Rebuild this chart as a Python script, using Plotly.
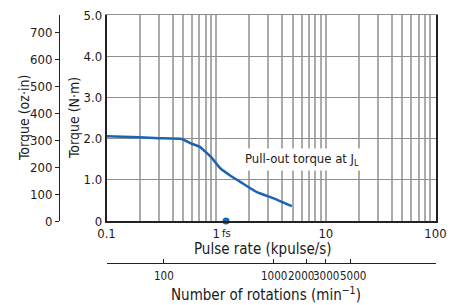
import math
import plotly.graph_objects as go

# The page body has an 8px margin, so the figure is drawn 8px smaller and
# all pixel positions below are given in window pixels, shifted by OFF.
OFF = 8
W, H = 458 - OFF, 305 - OFF

# Data
pulse_rate = [0.1, 0.2, 0.3, 0.486, 0.58, 0.71, 0.9, 1.09, 1.35, 1.66, 2.35, 3.34, 4.9]
torque_nm = [2.06, 2.03, 2.01, 1.99, 1.89, 1.80, 1.55, 1.28, 1.10, 0.95, 0.70, 0.55, 0.36]
fs_point = [1.23]
fs_torque = [0]
y_ticks = [0, 1, 2, 3, 4, 5]
y_labels = ["0", "1.0", "2.0", "3.0", "4.0", "5.0"]
oz_ticks = [0, 100, 200, 300, 400, 500, 600, 700]
x_ticks = [0.1, 1, 10, 100]
x_labels = ["0.1", "1", "10", "100"]
rot_ticks = [100, 1000, 2000, 3000, 5000]
rot_labels = ["100", "1000", "2000", "3000", "5000"]
rot_label_shift = [0, 0, -6, 0, 3]   # small nudges so the crowded labels sit side by side

FONT = "DejaVu Sans Condensed, Liberation Sans Narrow, sans-serif"
TXT = "#1a1a1a"
BLUE = "#1a64b4"
GRID_V = "#ababab"
GRID_H = "#909090"

def px_x(x):
    return (x - OFF) / W

def px_y(y):
    return (H - (y - OFF)) / H

x_dom = [px_x(106.5), px_x(435.5)]
y_dom = [px_y(221), px_y(15)]

fig = go.Figure()
fig.add_trace(go.Scatter(x=pulse_rate, y=torque_nm, mode="lines",
                         line=dict(color=BLUE, width=2.5, shape="spline", smoothing=0.4),
                         hoverinfo="skip", showlegend=False))
fig.add_trace(go.Scatter(x=fs_point, y=fs_torque, mode="markers",
                         marker=dict(color=BLUE, size=7), cliponaxis=False,
                         hoverinfo="skip", showlegend=False))

fig.update_layout(
    width=W, height=H,
    margin=dict(l=0, r=0, t=0, b=0, autoexpand=False),
    paper_bgcolor="white", plot_bgcolor="white",
    font=dict(family=FONT, size=13, color=TXT),
    xaxis=dict(type="log", range=[-1, 2], domain=x_dom,
               tickvals=x_ticks, ticktext=x_labels, ticks="",
               showline=True, linecolor="#222", linewidth=1.5,
               showgrid=True, gridcolor=GRID_V, gridwidth=1.5,
               minor=dict(showgrid=True, gridcolor=GRID_V, gridwidth=1.5, dtick="D1"),
               tickfont=dict(size=13), zeroline=False, anchor="y"),
    # gray top edge (the 5.0 grid line)
    xaxis3=dict(overlaying="x", anchor="y", side="top", type="log", range=[-1, 2],
                showline=True, linecolor=GRID_H, linewidth=1, showticklabels=False,
                ticks="", showgrid=False, zeroline=False),
    yaxis=dict(range=[0, 5], domain=y_dom, tickvals=y_ticks, ticktext=y_labels,
               ticks="", showline=True, mirror=True, linecolor="#222", linewidth=1.5,
               showgrid=True, gridcolor=GRID_H, gridwidth=1, ticklabeloverflow="allow",
               zeroline=False, tickfont=dict(size=13), anchor="x"),
    yaxis2=dict(overlaying="y", anchor="free", position=px_x(59), side="left",
                range=[0, 700 * 206 / 189], tickvals=oz_ticks, ticks="outside",
                ticklen=4, tickcolor="#222", showline=True, linecolor="#222", linewidth=1,
                showgrid=False, zeroline=False, tickfont=dict(size=13)),
    xaxis2=dict(overlaying="x", anchor="free", position=px_y(263), side="bottom",
                type="log", range=[math.log10(30), math.log10(30000)], tickvals=rot_ticks,
                ticks="inside", ticklen=4, tickcolor="#222", showline=True,
                showticklabels=False,
                linecolor="#222", linewidth=1, showgrid=False, zeroline=False),
)

# dummy traces so secondary axes are drawn
fig.add_trace(go.Scatter(x=[None], y=[None], xaxis="x2", yaxis="y2", showlegend=False))
fig.add_trace(go.Scatter(x=[None], y=[None], xaxis="x3", yaxis="y", showlegend=False))

ann = [
    dict(text="Torque (N·m)", x=px_x(74), y=px_y(118), textangle=-90, font=dict(size=14)),
    dict(text="Torque (oz·in)", x=px_x(24), y=px_y(118), textangle=-90, font=dict(size=14)),
    dict(text="Pulse rate (kpulse/s)", x=px_x(263), y=px_y(249), font=dict(size=15)),
    dict(text="Number of rotations (min<sup>−1</sup>)", x=px_x(266), y=px_y(294), font=dict(size=15)),
    dict(text="fs", x=px_x(226.5), y=px_y(233), font=dict(size=11)),
    dict(text="Pull-out torque at J<sub>L</sub>", x=px_x(302), y=px_y(159),
         font=dict(size=13), bgcolor="white", borderpad=2),
]
for a in ann:
    a.update(xref="paper", yref="paper", showarrow=False, xanchor="center", yanchor="middle")
    fig.add_annotation(**a)

# rotation-axis tick labels
for v, lab, dx in zip(rot_ticks, rot_labels, rot_label_shift):
    fig.add_annotation(text=lab, xref="x2", x=math.log10(v), yref="paper", y=px_y(276),
                       xshift=dx, showarrow=False, xanchor="center", yanchor="middle",
                       font=dict(size=11.5))

fig.write_html("out.html")
